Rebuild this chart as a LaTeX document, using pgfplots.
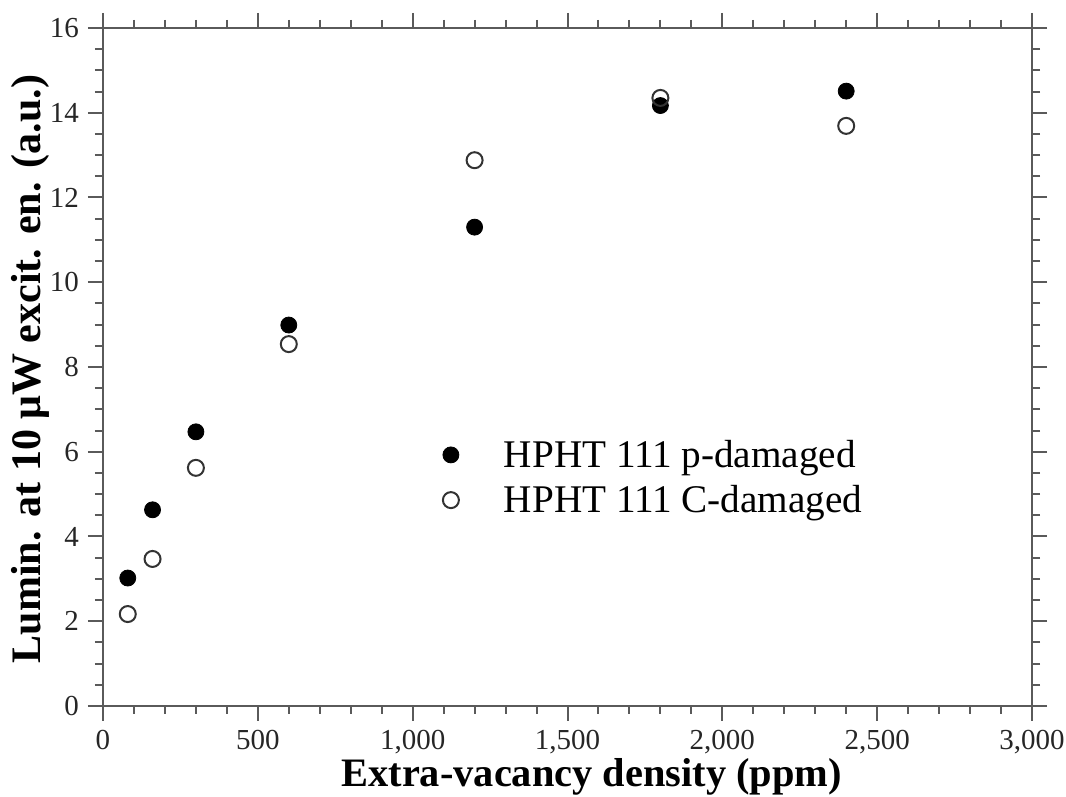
\documentclass[border=0pt]{standalone}
\usepackage{pgfplots}
\pgfplotsset{compat=1.18}
\usepackage{fontspec}
\setmainfont{Liberation Serif}
\definecolor{axgray}{HTML}{5A5A5A}
\begin{document}
\begin{tikzpicture}
\begin{axis}[
  scale only axis,
  width=464.5pt, height=339pt,
  xmin=0, xmax=3000, ymin=0, ymax=16,
  xtick={0,500,...,3000}, ytick={0,2,...,16},
  minor x tick num=4, minor y tick num=3,
  tick align=outside,
  major tick length=7.5pt, minor tick length=4pt,
  axis line style={axgray, line width=1pt},
  tick style={axgray, line width=1pt},
  xtick pos=both, ytick pos=both,
  xticklabel pos=lower, yticklabel pos=left,
  scaled x ticks=false,
  /pgf/number format/assume math mode=true,
  /pgf/number format/1000 sep={,},
  tick label style={font=\fontsize{14.5}{16}\selectfont, text=black!85},
  xticklabel style={yshift=-1pt},
  yticklabel style={xshift=-1pt},
  xlabel={\textbf{Extra-vacancy density (ppm)}},
  ylabel={\textbf{Lumin. at 10 μW excit. en. (a.u.)}},
  xlabel style={font=\fontsize{20.2}{22}\selectfont, at={(rel axis cs:0.526,0)}, anchor=center, yshift=-35.5pt},
  ylabel style={font=\fontsize{21}{23}\selectfont, at={(rel axis cs:0,0.497)}, anchor=center, yshift=36.5pt},
  legend style={at={(rel axis cs:0.359,0.405)}, anchor=north west, draw=none, fill=none,
    font=\fontsize{19.6}{21}\selectfont, row sep=3.5pt,
    /tikz/every odd column/.append style={column sep=20.5pt}},
  legend cell align=left,
  clip=false,
]
\addplot[only marks, mark=*, mark size=4pt, black, mark options={fill=black}]
  coordinates {(80,3.02) (160,4.63) (300,6.47) (600,8.99) (1200,11.30) (1800,14.17) (2400,14.51)};
\addlegendentry{HPHT 111 p-damaged}
\addplot[only marks, mark=o, mark size=4pt, black!80, line width=1pt, mark options={fill=white}]
  coordinates {(80,2.17) (160,3.47) (300,5.62) (600,8.54) (1200,12.88) (1800,14.35) (2400,13.69)};
\addlegendentry{HPHT 111 C-damaged}
\end{axis}
\pgfresetboundingbox
\path (current axis.south west) ++(-51.5pt,-45.5pt) coordinate (bbsw);
\useasboundingbox (bbsw) rectangle ++(533pt,398.5pt);
\end{tikzpicture}
\end{document}
